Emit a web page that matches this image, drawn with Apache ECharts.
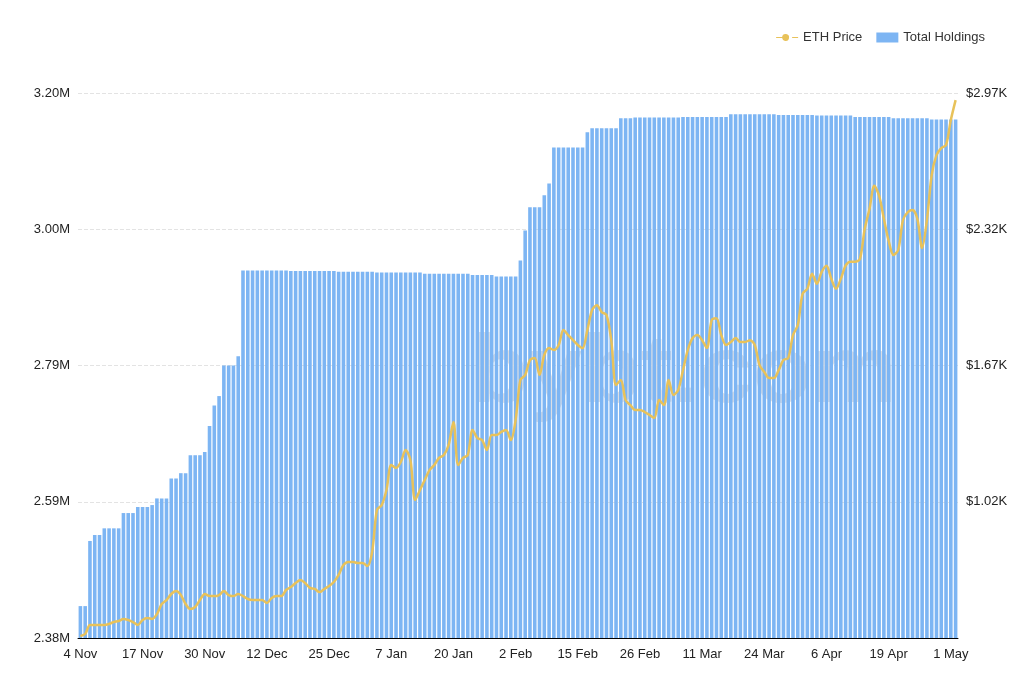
<!DOCTYPE html>
<html><head><meta charset="utf-8">
<script src="https://cdn.jsdelivr.net/npm/echarts@6/dist/echarts.min.js"></script>
<style>html,body{margin:0;padding:0;background:#fff}#c{width:1024px;height:677px}</style>
</head><body><div id="c"></div>
<script>
const startDate = '2020-11-04';
const duplicatedDates = ['2020-12-05','2021-02-20','2021-02-21','2021-04-25'];
// Total holdings, thousands of ETH
const holdings = [2428,2428,2526,2535,2535,2545,2545,2545,2545,2568,2568,2568,2577,2577,2577,2580,2590,2590,2590,2620,2620,2628,2628,2655,2655,2655,2660,2699,2730,2744,2790,2790,2790,2804,
2933,2933,2933,2933,2933,2933,2933,2933,2933,2933,2932,2932,2932,2932,2932,2932,2932,2932,2932,2932,2931,2931,2931,2931,2931,2931,2931,2931,2930,2930,2930,2930,2930,2930,2930,2930,2930,2930,2928,2928,2928,2928,2928,2928,2928,2928,2928,2928,2926,2926,2926,2926,2926,2924,2924,2924,2924,2924,
2948,2993,3028,3028,3028,3046,3064,3118,3118,3118,3118,3118,3118,3118,3141,3147,3147,3147,3147,3147,3147,
3162,3162,3162,3163,3163,3163,3163,3163,3163,3163,3163,3163,3163,3164,3164,3164,3164,3164,3164,3164,3164,3164,3164,
3168,3168,3168,3168,3168,3168,3168,3168,3168,3168,
3167,3167,3167,3167,3167,3167,3167,3167,3166,3166,3166,3166,3166,3166,3166,3166,3164,3164,3164,3164,3164,3164,3164,3164,3162,3162,3162,3162,3162,3162,3162,3162,3160,3160,3160,3160,3160,3160];
// ETH price, USD
const price = [380,389,432,432,432,432,437,446,451,461,456,446,432,456,465,461,484,532,551,580,594,575,532,508,518,551,580,570,570,575,594,575,570,580,570,556,551,551,551,537,561,570,570,599,613,632,647,632,609,604,589,604,618,637,671,718,733,733,728,728,713,780,981,1004,1076,1195,1181,1210,1267,1219,1028,1076,1124,1171,1195,1229,1243,1291,1400,1195,1229,1243,1362,1324,1314,1267,1338,1338,1353,1362,1314,1410,1601,1625,1696,1706,1625,1720,1753,1744,1768,1839,1815,1791,1768,1753,1839,1935,1958,1925,1911,1791,1577,1601,1505,1481,1458,1458,1448,1434,1419,1505,1481,1601,1529,1553,1648,1744,1801,1815,1791,1753,1887,1896,1815,1768,1782,1801,1782,1782,1791,1768,1672,1639,1610,1610,1648,1696,1706,1815,1863,2012,2036,2108,2060,2117,2146,2084,2036,2084,2146,2165,2165,2179,2322,2418,2527,2480,2370,2265,2197,2221,2364,2402,2412,2370,2230,2364,2579,2674,2707,2722,2841,2936];
const leftTicks = {min:2380, max:3200, step:205};
const rightTicks = {min:370, max:2970, step:650};
const months = ['Jan','Feb','Mar','Apr','May','Jun','Jul','Aug','Sep','Oct','Nov','Dec'];

const categories = [];
{
  const d = new Date(startDate + 'T00:00:00Z');
  while (categories.length < holdings.length) {
    const iso = d.toISOString().slice(0,10);
    const label = d.getUTCDate() + ' ' + months[d.getUTCMonth()];
    categories.push(label);
    if (duplicatedDates.includes(iso) && categories.length < holdings.length) categories.push(label + ' ');
    d.setUTCDate(d.getUTCDate() + 1);
  }
}
const n = Math.min(holdings.length, price.length);
const chart = echarts.init(document.getElementById('c'));
const font = 'Helvetica, Arial, "Liberation Sans", sans-serif';
chart.setOption({
  animation:false,
  textStyle:{fontFamily:font},
  legend:{top:26,right:34,itemGap:14,itemWidth:22,itemHeight:10,textStyle:{fontSize:13,color:'#333',fontFamily:font},
    data:[{name:'ETH Price',icon:'path://M0,4.5 L6,4.5 A3.5,3.5 0 1 1 6,5.5 L0,5.5 Z M16,4.5 L22,4.5 L22,5.5 L16,5.5 Z'},{name:'Total Holdings',icon:'rect'}]},
  graphic:[{type:'text',left:470,top:328,z:0,style:{text:'bybt.com',font:'bold 96px '+font,fill:'rgba(80,95,125,0.2)'}}],
  grid:{left:78,right:66,top:93,bottom:39},
  xAxis:{type:'category',data:categories.slice(0,n),boundaryGap:true,
    axisLine:{lineStyle:{color:'#000'}},axisTick:{show:false},
    axisLabel:{interval:12,color:'#222',fontSize:13,margin:10}},
  yAxis:[
    {type:'value',min:leftTicks.min,max:leftTicks.max,interval:leftTicks.step,
      axisLabel:{color:'#222',fontSize:13,formatter:v=>(Math.round(v/10)/100).toFixed(2)+'M'},
      splitLine:{lineStyle:{color:'#e3e3e3',type:'dashed'}},axisLine:{show:false},axisTick:{show:false}},
    {type:'value',min:rightTicks.min,max:rightTicks.max,interval:rightTicks.step,
      axisLabel:{color:'#222',fontSize:13,showMinLabel:false,formatter:v=>'$'+(v/1000).toFixed(2)+'K'},
      splitLine:{show:false},axisLine:{show:false},axisTick:{show:false}}
  ],
  series:[
    {name:'Total Holdings',type:'bar',yAxisIndex:0,data:holdings.slice(0,n),
      itemStyle:{color:'#7db5f3'},barCategoryGap:'25%',z:1},
    {name:'ETH Price',type:'line',yAxisIndex:1,data:price.slice(0,n),
      showSymbol:false,symbol:'circle',symbolSize:7,smooth:0.3,
      itemStyle:{color:'#e8c25a',borderColor:'#e8c25a'},lineStyle:{color:'#e8c25a',width:2.5},z:3}
  ]
});
</script></body></html>
